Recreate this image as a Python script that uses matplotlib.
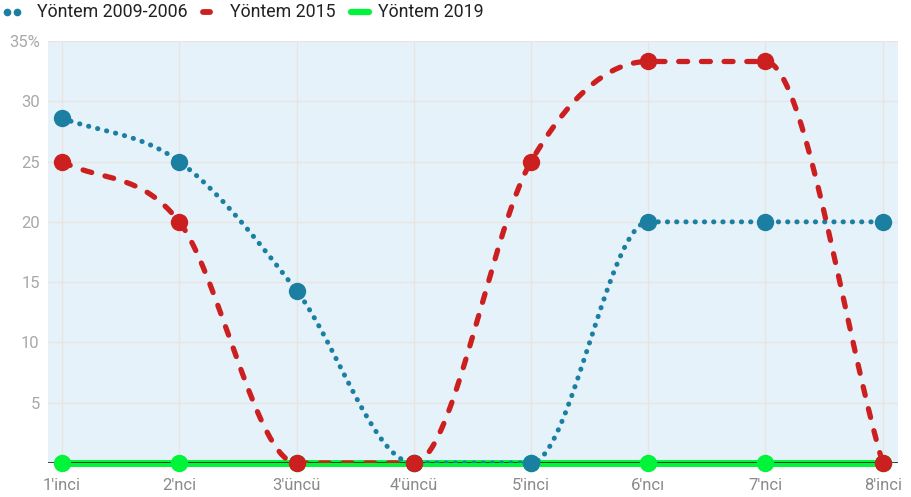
import numpy as np
import matplotlib
matplotlib.use('Agg')
import matplotlib.pyplot as plt
from matplotlib.lines import Line2D

plt.rcParams['font.family'] = ['Roboto', 'DejaVu Sans']

categories = ["1'inci", "2'nci", "3'üncü", "4'üncü", "5'inci", "6'ncı", "7'nci", "8'inci"]
yontem_2009 = [28.6, 25.0, 14.3, 0.0, 0.0, 20.0, 20.0, 20.0]
yontem_2015 = [25.0, 20.0, 0.0, 0.0, 25.0, 33.3, 33.3, 0.0]
yontem_2019 = [0, 0, 0, 0, 0, 0, 0, 0]
series_names = ['Yöntem 2009-2006', 'Yöntem 2015', 'Yöntem 2019']

blue = '#1b7fa2'
red = '#cc1f1f'
green = '#00f43a'
W, H = 912, 497


def monotone(xs, ys, n=40):
	# Fritsch-Carlson monotone cubic, only for drawing the curve
	xs = np.asarray(xs, float)
	ys = np.asarray(ys, float)
	d = np.diff(ys) / np.diff(xs)
	m = np.zeros(len(ys))
	m[0] = d[0]
	m[-1] = d[-1]
	for i in range(1, len(ys) - 1):
		if d[i - 1] * d[i] <= 0:
			m[i] = 0
		else:
			m[i] = (d[i - 1] + d[i]) / 2
	for i in range(len(d)):
		if d[i] == 0:
			m[i] = m[i + 1] = 0
			continue
		a = m[i] / d[i]
		b = m[i + 1] / d[i]
		s = a * a + b * b
		if s > 9:
			t = 3 / np.sqrt(s)
			m[i] = t * a * d[i]
			m[i + 1] = t * b * d[i]
	px, py = [], []
	for i in range(len(d)):
		h = xs[i + 1] - xs[i]
		t = np.linspace(0, 1, n)
		h00 = 2 * t**3 - 3 * t**2 + 1
		h10 = t**3 - 2 * t**2 + t
		h01 = -2 * t**3 + 3 * t**2
		h11 = t**3 - t**2
		px.extend(xs[i] + t * h)
		py.extend(h00 * ys[i] + h10 * h * m[i] + h01 * ys[i + 1] + h11 * h * m[i + 1])
	return np.array(px), np.array(py)


fig = plt.figure(figsize=(9.12, 4.97), dpi=100)
ax = fig.add_axes([0.0526, 0.0684, 0.932, 0.8491])
ax.set_facecolor('#e6f2f9')
x = np.arange(len(categories))

# green flat series
ax.plot(x, yontem_2019, color=green, lw=5, solid_capstyle='butt', zorder=3, clip_on=False)
ax.plot(x, yontem_2019, 'o', color=green, ms=11.5, zorder=6, clip_on=False)
ax.axhline(0, color='#222222', lw=1.2, zorder=4)

sx, sy = monotone(x, yontem_2009)
ax.plot(sx, sy, color=blue, lw=3.6, linestyle=(0, (0.05, 1.8)), dash_capstyle='round', zorder=5)
ax.plot(x, yontem_2009, 'o', color=blue, ms=11.5, zorder=7, clip_on=False)

sx, sy = monotone(x, yontem_2015)
ax.plot(sx, sy, color=red, lw=3.8, linestyle=(0, (1.7, 2.6)), dash_capstyle='round', zorder=5)
ax.plot(x, yontem_2015, 'o', color=red, ms=11.5, zorder=7, clip_on=False)

ax.set_xlim(-0.12, 7.13)
ax.set_ylim(0, 35)
ax.set_xticks(x)
ax.set_xticklabels(categories)
ax.set_yticks([5, 10, 15, 20, 25, 30, 35])
ax.set_yticklabels(['5', '10', '15', '20', '25', '30', '35%'])
ax.tick_params(axis='x', length=0, pad=11, labelsize=12, labelcolor='#8a8a8a')
ax.tick_params(axis='y', length=0, pad=6, labelsize=12, labelcolor='#a8a8a8')
ax.grid(True, color='#e8e4e4', lw=1)
ax.set_axisbelow(True)
for s in ax.spines.values():
	s.set_visible(False)

# legend drawn by hand, pixel positions from the top left
ly = 1 - 12 / H
fig.add_artist(Line2D([7 / W, 17 / W], [ly, ly], color=blue, lw=0, marker='o', ms=4.5))
fig.add_artist(Line2D([203 / W, 210 / W], [ly, ly], color=red, lw=4.2, solid_capstyle='round'))
fig.add_artist(Line2D([351 / W, 369 / W], [ly, ly], color=green, lw=4.5, solid_capstyle='round'))
for tx, name in zip([37, 230, 378], series_names):
	fig.text(tx / W, ly, name, fontsize=12.8, color='#222222', va='center', ha='left')

fig.savefig('out.png', dpi=100)
